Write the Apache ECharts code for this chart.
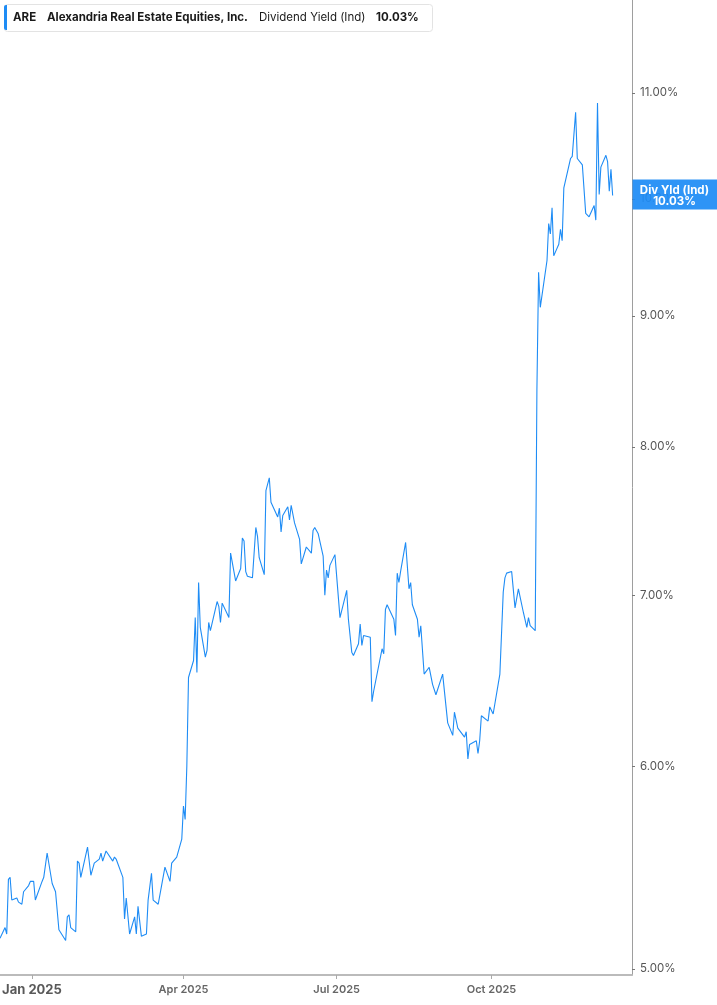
<!DOCTYPE html>
<html>
<head>
<meta charset="utf-8">
<script src="https://cdn.jsdelivr.net/npm/echarts@6/dist/echarts.min.js"></script>
<style>
html,body{margin:0;padding:0;background:#fff;}
#chart{width:717px;height:1005px;}
</style>
</head>
<body>
<div id="chart"></div>
<script>
// ---- data ----
const ticker = 'ARE';
const companyName = 'Alexandria Real Estate Equities, Inc.';
const metricName = 'Dividend Yield (Ind)';
const endLabelName = 'Div Yld (Ind)';

const dates = [
'2024-12-13','2024-12-16','2024-12-17','2024-12-18','2024-12-19','2024-12-20','2024-12-23','2024-12-24','2024-12-26','2024-12-27','2024-12-30','2024-12-31',
'2025-01-02','2025-01-03','2025-01-07','2025-01-08','2025-01-10','2025-01-13','2025-01-15','2025-01-17','2025-01-21','2025-01-22','2025-01-23','2025-01-24','2025-01-27','2025-01-28','2025-01-29','2025-01-30',
'2025-02-03','2025-02-04','2025-02-05','2025-02-07','2025-02-10','2025-02-11','2025-02-12','2025-02-14','2025-02-18','2025-02-19','2025-02-20','2025-02-24','2025-02-25','2025-02-26','2025-02-28',
'2025-03-03','2025-03-04','2025-03-05','2025-03-07','2025-03-10','2025-03-11','2025-03-13','2025-03-14','2025-03-17','2025-03-19','2025-03-21','2025-03-24','2025-03-25','2025-03-26','2025-03-28','2025-03-31',
'2025-04-01','2025-04-02','2025-04-03','2025-04-04','2025-04-07','2025-04-08','2025-04-09','2025-04-10','2025-04-11','2025-04-14','2025-04-15','2025-04-16','2025-04-17','2025-04-21','2025-04-22','2025-04-23','2025-04-24','2025-04-28','2025-04-29','2025-04-30',
'2025-05-02','2025-05-05','2025-05-06','2025-05-07','2025-05-08','2025-05-09','2025-05-12','2025-05-14','2025-05-15','2025-05-16','2025-05-19','2025-05-20','2025-05-21','2025-05-22','2025-05-23','2025-05-27','2025-05-28','2025-05-29','2025-05-30',
'2025-06-02','2025-06-03','2025-06-04','2025-06-06','2025-06-09','2025-06-10','2025-06-11','2025-06-13','2025-06-16','2025-06-17','2025-06-18','2025-06-20','2025-06-23','2025-06-24','2025-06-25','2025-06-26','2025-06-27','2025-06-30',
'2025-07-03','2025-07-07','2025-07-08','2025-07-09','2025-07-10','2025-07-11','2025-07-14','2025-07-15','2025-07-16','2025-07-17','2025-07-21','2025-07-22','2025-07-23','2025-07-24','2025-07-28','2025-07-29','2025-07-30','2025-07-31',
'2025-08-04','2025-08-05','2025-08-06','2025-08-07','2025-08-08','2025-08-11','2025-08-13','2025-08-14','2025-08-15','2025-08-18','2025-08-19','2025-08-20','2025-08-21','2025-08-22','2025-08-25','2025-08-27','2025-08-28','2025-08-29',
'2025-09-02','2025-09-05','2025-09-08','2025-09-09','2025-09-11','2025-09-15','2025-09-16','2025-09-17','2025-09-18','2025-09-22','2025-09-23','2025-09-24','2025-09-25','2025-09-26','2025-09-29','2025-09-30',
'2025-10-02','2025-10-06','2025-10-08','2025-10-09','2025-10-10','2025-10-13','2025-10-15','2025-10-17','2025-10-20','2025-10-21','2025-10-22','2025-10-23','2025-10-24','2025-10-27','2025-10-28','2025-10-29','2025-10-30',
'2025-11-03','2025-11-04','2025-11-05','2025-11-06','2025-11-07','2025-11-10','2025-11-11','2025-11-12','2025-11-13','2025-11-14','2025-11-17','2025-11-18','2025-11-20','2025-11-21','2025-11-24','2025-11-26','2025-11-28',
'2025-12-01','2025-12-02','2025-12-03','2025-12-04','2025-12-05','2025-12-08','2025-12-09','2025-12-10','2025-12-11','2025-12-12'
];

const yields = [
5.14,5.19,5.16,5.42,5.43,5.32,5.33,5.31,5.30,5.36,5.39,5.41,
5.41,5.32,5.41,5.43,5.55,5.40,5.36,5.18,5.13,5.24,5.25,5.19,5.17,5.51,5.50,5.43,
5.58,5.59,5.44,5.50,5.52,5.55,5.51,5.56,5.51,5.53,5.52,5.43,5.23,5.33,5.16,
5.24,5.16,5.29,5.15,5.16,5.32,5.45,5.32,5.30,5.39,5.48,5.41,5.50,5.51,5.53,5.62,
5.79,5.72,6.00,6.50,6.60,6.86,6.53,7.08,6.80,6.62,6.66,6.83,6.78,6.96,6.93,6.83,6.95,6.86,7.27,7.26,
7.09,7.17,7.37,7.35,7.15,7.12,7.11,7.44,7.38,7.24,7.13,7.69,7.70,7.78,7.61,7.51,7.57,7.41,7.52,
7.58,7.49,7.59,7.47,7.36,7.20,7.21,7.31,7.27,7.42,7.44,7.40,7.25,7.00,7.16,7.11,7.19,7.26,
6.86,7.03,6.85,6.84,6.65,6.63,6.70,6.82,6.69,6.75,6.74,6.36,6.42,6.41,6.67,6.64,6.91,6.94,
6.85,6.75,7.14,7.08,7.15,7.34,7.04,7.08,6.94,6.85,6.74,6.81,6.82,6.52,6.56,6.46,6.45,6.40,
6.52,6.24,6.17,6.30,6.21,6.16,6.19,6.04,6.12,6.14,6.07,6.14,6.28,6.29,6.25,6.33,
6.29,6.52,7.02,7.11,7.14,7.15,6.92,7.04,6.89,6.88,6.80,6.86,6.81,6.78,8.42,9.36,9.07,
9.46,9.78,9.69,9.92,9.50,9.60,9.73,9.63,10.10,10.09,10.37,10.39,10.81,10.37,10.31,9.87,9.84,
9.94,9.81,10.90,10.04,10.29,10.40,10.34,10.07,10.27,10.03
];

const yTickValues = [5, 6, 7, 8, 9, 10, 11];
const xTickDates = ['2025-01-01', '2025-04-01', '2025-07-01', '2025-10-01'];
const monthNames = ['Jan','Feb','Mar','Apr','May','Jun','Jul','Aug','Sep','Oct','Nov','Dec'];

// ---- chart ----
const toStamp = s => Date.UTC(+s.slice(0, 4), +s.slice(5, 7) - 1, +s.slice(8, 10));
const lastValue = yields[yields.length - 1];
const lastText = lastValue.toFixed(2) + '%';
const seriesData = dates.map((d, i) => [toStamp(d), yields[i]]);
const xTickStamps = xTickDates.map(toStamp);
const BLUE = '#1e8cf5';
const DAY = 86400000;
const xMin = toStamp('2024-12-13');
const xMax = toStamp('2025-12-23') + DAY / 2;

const headerFont = {fontFamily: 'Inter', fontSize: 11.5, fill: '#1a1a1a', verticalAlign: 'middle'};

const chart = echarts.init(document.getElementById('chart'), null, {renderer: 'canvas'});
chart.setOption({
  animation: false,
  backgroundColor: '#ffffff',
  grid: {left: 0, right: 85, top: 0, bottom: 30, containLabel: false, outerBoundsMode: 'none'},
  xAxis: {
    type: 'value',
    min: xMin,
    max: xMax,
    axisLine: {show: true, lineStyle: {color: '#bbbbbb', width: 2}},
    axisTick: {show: true, length: 4, lineStyle: {color: '#aaaaaa', width: 1}, customValues: xTickStamps},
    splitLine: {show: false},
    axisLabel: {
      customValues: xTickStamps,
      margin: 9,
      hideOverlap: false,
      formatter: function (v) {
        const d = new Date(v);
        const s = monthNames[d.getUTCMonth()] + ' ' + d.getUTCFullYear();
        return d.getUTCMonth() === 0 ? '{y|' + s + '}' : '{m|' + s + '}';
      },
      rich: {
        y: {fontFamily: 'Inter', fontWeight: 'bold', fontSize: 13, color: '#595959'},
        m: {fontFamily: 'Inter', fontWeight: 600, fontSize: 11, color: '#666666'}
      }
    }
  },
  yAxis: {
    type: 'log',
    logBase: 10,
    position: 'right',
    min: 4.973,
    max: 11.96,
    axisLine: {show: true, lineStyle: {color: '#9e9e9e', width: 1}},
    axisTick: {show: true, length: 3, lineStyle: {color: '#777'}, customValues: yTickValues},
    splitLine: {show: false},
    minorTick: {show: false},
    axisLabel: {
      customValues: yTickValues,
      margin: 8,
      color: '#555555',
      fontFamily: 'Inter',
      fontSize: 11.5,
      formatter: v => Number(v).toFixed(2) + '%'
    }
  },
  series: [{
    type: 'line',
    data: seriesData,
    showSymbol: false,
    symbol: 'none',
    lineStyle: {color: BLUE, width: 1.1},
    itemStyle: {color: BLUE},
    z: 3
  }]
});

// header + end-of-line value box (box y from the library's own y scale)
const py = chart.convertToPixel({yAxisIndex: 0}, lastValue);
const px = chart.convertToPixel({xAxisIndex: 0}, xMax);
const boxCx = px + (717 - px) / 2;
chart.setOption({
  graphic: [
    {type: 'rect', left: 4, top: 4, shape: {width: 428, height: 27, r: 3}, style: {fill: '#fff', stroke: '#e3e3e3', lineWidth: 1}, z: 10},
    {type: 'rect', left: 4, top: 5, shape: {width: 3, height: 25, r: [2, 0, 0, 2]}, style: {fill: BLUE}, z: 11},
    {type: 'text', x: 13, y: 18, style: Object.assign({text: ticker, fontWeight: 'bold'}, headerFont), z: 11},
    {type: 'text', x: 47, y: 18, style: Object.assign({text: companyName, fontWeight: 'bold'}, headerFont), z: 11},
    {type: 'text', x: 259, y: 18, style: Object.assign({text: metricName, fontWeight: 'normal'}, headerFont), z: 11},
    {type: 'text', x: 376, y: 18, style: Object.assign({text: lastText, fontWeight: 'bold'}, headerFont), z: 11},
    {type: 'rect', x: px + 0.5, y: py - 16, shape: {width: 717 - px, height: 30}, style: {fill: BLUE, opacity: 0.93}, z: 20},
    {type: 'text', x: boxCx, y: py - 5, style: {text: endLabelName, fontFamily: 'Inter', fontWeight: 'bold', fontSize: 11.5, fill: '#fff', align: 'center', verticalAlign: 'middle'}, z: 21},
    {type: 'text', x: boxCx, y: py + 6, style: {text: lastText, fontFamily: 'Inter', fontWeight: 'bold', fontSize: 11.5, fill: '#fff', align: 'center', verticalAlign: 'middle'}, z: 21}
  ]
});
</script>
</body>
</html>
